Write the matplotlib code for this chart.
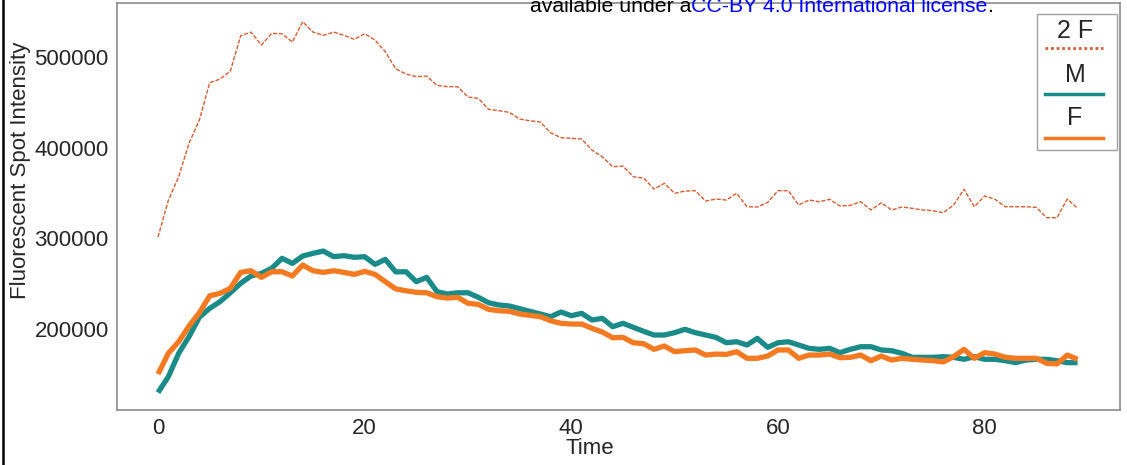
import numpy as np
import matplotlib
matplotlib.use('Agg')
import matplotlib.pyplot as plt
from matplotlib.lines import Line2D
from matplotlib.patches import Rectangle

plt.rcParams['font.family'] = ['Liberation Sans', 'DejaVu Sans']

# time points (frames)
t = np.arange(90)

two_f = [301500, 342000, 368000, 405000, 430500, 471700, 475700, 484500, 523500, 527500,
         513200, 526100, 525700, 516500, 539000, 527500, 524000, 527500, 524000, 519500,
         525700, 518700, 505800, 487000, 481300, 478300, 479000, 468800, 467300, 467300,
         455900, 454400, 442300, 440800, 439000, 431600, 429700, 428300, 416500, 411000,
         410300, 409600, 397400, 390000, 379000, 379800, 368000, 366500, 354400, 360700,
         349700, 352200, 352600, 341200, 343400, 342300, 349700, 334900, 334600, 339700,
         352600, 352600, 336800, 342300, 340400, 343100, 335700, 336400, 340400, 331300,
         339300, 331300, 334600, 333100, 331300, 330500, 328300, 336800, 354100, 334900,
         346700, 343100, 334900, 334900, 334900, 334200, 322800, 322800, 343400, 333100]

m = [129900, 147500, 173200, 191600, 213000, 222800, 230200, 240000, 250400, 258500,
     261400, 267000, 278000, 272400, 280500, 283500, 286000, 279800, 280900, 279100,
     279800, 271300, 276800, 263000, 263200, 252200, 257000, 241200, 238600, 240000,
     240000, 235000, 229000, 226500, 225400, 222500, 219500, 216600, 213600, 218800,
     214700, 217300, 210000, 211800, 202600, 206300, 201900, 197500, 193400, 193400,
     196000, 199700, 196000, 193400, 190800, 184900, 186000, 182400, 189700, 179800,
     184900, 186000, 182400, 178700, 177600, 178700, 173900, 177600, 180500, 180500,
     176900, 176100, 173200, 168800, 168800, 168800, 169500, 168800, 166600, 169500,
     166600, 166600, 165100, 162900, 165800, 166600, 166600, 165100, 162900, 162900]

f = [150400, 173200, 186000, 203300, 218000, 236600, 239400, 244900, 262500, 264300,
     257000, 263200, 263200, 258500, 270600, 264300, 262500, 264300, 262500, 260300,
     263600, 260300, 252200, 244300, 242200, 240500, 240000, 235700, 234200, 235000,
     228400, 227200, 221700, 220200, 219500, 216600, 215100, 213600, 209200, 206300,
     205500, 205500, 200800, 196700, 190400, 190800, 184900, 183800, 177600, 181300,
     175000, 176100, 176900, 171300, 172400, 172000, 175000, 167700, 167700, 170200,
     176900, 176900, 167700, 171300, 171300, 172400, 168400, 168800, 171300, 165100,
     170200, 165800, 167700, 166600, 165800, 165100, 163700, 169500, 177600, 167700,
     173900, 172400, 168800, 167700, 167700, 167700, 162200, 161500, 171300, 166600]

labels = ['2 F', 'M', 'F']
c_2f = '#d85c30'
c_m = '#1a8b88'
c_f = '#f47a22'

fig = plt.figure(figsize=(11.27, 4.65), dpi=100)
ax = fig.add_axes([117/1127, 1 - 410/465, 1003/1127, 407/465])

ax.plot(t, two_f, color=c_2f, lw=1.0, ls=(0, (3, 1.2)))
ax.plot(t, m, color=c_m, lw=3.8, solid_capstyle='butt')
ax.plot(t, f, color=c_f, lw=3.8, solid_capstyle='butt')

ax.set_xlim(-3.97, 93.1)
ax.set_ylim(110700, 559600)
ax.set_xticks([0, 20, 40, 60, 80])
ax.set_yticks([200000, 300000, 400000, 500000])
ax.tick_params(length=0, labelsize=16, colors='#262626', pad=6)
for s in ax.spines.values():
    s.set_color('#8c8c8c')
    s.set_linewidth(1.2)

ax.set_xlabel('Time', fontsize=16, color='#262626', va='top')
ax.xaxis.set_label_coords(0.4716, -0.068)
ax.set_ylabel('Fluorescent Spot Intensity', fontsize=16, color='#262626')
ax.yaxis.set_label_coords(-0.086, 0.59)

# legend box, labels above the key lines
fx = lambda px: px / 1127
fy = lambda py: 1 - py / 465
fig.patches.append(Rectangle((fx(1037), fy(150)), fx(1117) - fx(1037), fy(14) - fy(150),
                             transform=fig.transFigure, facecolor='white',
                             edgecolor='#a0a0a0', lw=1.0, zorder=5))
key_styles = [dict(color=c_2f, lw=2.0, ls=(0, (1, 1))),
              dict(color=c_m, lw=2.5),
              dict(color=c_f, lw=2.5)]
label_y = [31, 75, 118]
line_y = [48, 94, 138]
for lab, st, ly, ky in zip(labels, key_styles, label_y, line_y):
    fig.text(fx(1075), fy(ly), lab, fontsize=18, color='#262626',
             ha='center', va='center', zorder=6)
    fig.add_artist(Line2D([fx(1045), fx(1103)], [fy(ky), fy(ky)],
                          transform=fig.transFigure, zorder=6, **st))

# page border on the left
fig.add_artist(Line2D([fx(3.5), fx(3.5)], [0, 1], transform=fig.transFigure,
                      color='black', lw=1.8))

# bioRxiv licence banner cut off at the top
fig.canvas.draw()
r = fig.canvas.get_renderer()
x0 = fx(530)
yb = fy(12)
parts = [('available under a', 'black'), ('CC-BY 4.0 International license', '#0000ff'),
         ('.', 'black')]
for txt, col in parts:
    tt = fig.text(x0, yb, txt, fontsize=15.3, color=col, va='baseline', ha='left', zorder=7)
    bb = tt.get_window_extent(renderer=r)
    x0 += bb.width / fig.bbox.width

fig.savefig('out.png', dpi=100)
